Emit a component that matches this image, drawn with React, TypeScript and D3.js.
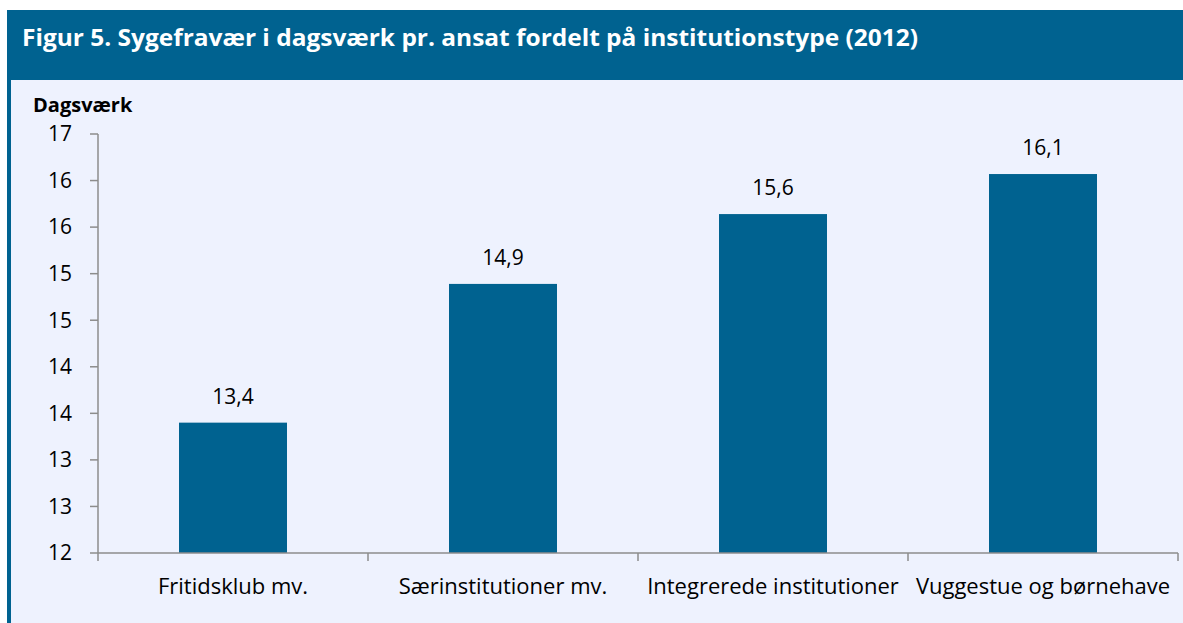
import { useRef, useEffect } from "react";
import * as d3 from "d3";

const categories = [
  "Fritidsklub mv.",
  "Særinstitutioner mv.",
  "Integrerede institutioner",
  "Vuggestue og børnehave",
];
const values = [13.4, 14.89, 15.64, 16.07];
const valueLabels = ["13,4", "14,9", "15,6", "16,1"];
const yTicks = [12, 12.5, 13, 13.5, 14, 14.5, 15, 15.5, 16, 16.5];
const yTickLabels = ["12", "13", "13", "14", "14", "15", "15", "16", "16", "17"];

const title = "Figur 5. Sygefravær i dagsværk pr. ansat fordelt på institutionstype (2012)";
const yTitle = "Dagsværk";

const BLUE = "#006290";
const BG = "#EEF2FE";
const AXIS = "#8C8C8C";
const FONT = "'Open Sans', 'Noto Sans', sans-serif";

export default function App() {
  const ref = useRef<SVGSVGElement>(null);

  useEffect(() => {
    const W = 1183;
    const H = 623;
    const svg = d3.select(ref.current);
    svg.selectAll("*").remove();

    // frame
    svg.append("rect").attr("width", W).attr("height", H).attr("fill", "#fff");
    svg.append("rect").attr("x", 7).attr("y", 10).attr("width", W - 7).attr("height", H - 10).attr("fill", BLUE);
    svg.append("rect").attr("x", 11).attr("y", 80).attr("width", W - 11).attr("height", H - 80).attr("fill", BG);

    svg.append("text")
      .attr("x", 22)
      .attr("y", 46)
      .attr("fill", "#fff")
      .attr("font-family", FONT)
      .attr("font-weight", "bold")
      .attr("font-size", "24px")
      .attr("textLength", 896)
      .attr("lengthAdjust", "spacingAndGlyphs")
      .text(title);

    svg.append("text")
      .attr("x", 33)
      .attr("y", 112)
      .attr("fill", "#000")
      .attr("font-family", FONT)
      .attr("font-weight", "bold")
      .attr("font-size", "20px")
      .text(yTitle);

    const left = 98;
    const right = 1178;
    const top = 134;
    const bottom = 553;

    const x = d3.scaleBand().domain(categories).range([left, right]).paddingInner(0.6).paddingOuter(0.3);
    const y = d3.scaleLinear().domain([12, 16.5]).range([bottom, top]);

    // bars
    svg.append("g")
      .selectAll("rect")
      .data(values)
      .join("rect")
      .attr("x", (_, i) => x(categories[i])!)
      .attr("width", x.bandwidth())
      .attr("y", (d) => y(d))
      .attr("height", (d) => bottom - y(d))
      .attr("fill", BLUE);

    svg.append("g")
      .selectAll("text")
      .data(values)
      .join("text")
      .attr("x", (_, i) => x(categories[i])! + x.bandwidth() / 2)
      .attr("y", (d) => y(d) - 19)
      .attr("text-anchor", "middle")
      .attr("font-family", FONT)
      .attr("font-size", "21px")
      .attr("fill", "#000")
      .text((_, i) => valueLabels[i]);

    // y axis
    const yAxis = svg.append("g").attr("transform", `translate(${left},0)`);
    yAxis.append("line").attr("y1", top).attr("y2", bottom).attr("stroke", AXIS).attr("stroke-width", 1.5);
    yTicks.forEach((t, i) => {
      yAxis.append("line").attr("x1", -8).attr("x2", 0).attr("y1", y(t)).attr("y2", y(t)).attr("stroke", AXIS).attr("stroke-width", 1.5);
      yAxis.append("text")
        .attr("x", -26)
        .attr("y", y(t))
        .attr("dy", "0.35em")
        .attr("text-anchor", "end")
        .attr("font-family", FONT)
        .attr("font-size", "21px")
        .attr("fill", "#000")
        .text(yTickLabels[i]);
    });

    // x axis
    const step = (right - left) / categories.length;
    const xAxis = svg.append("g").attr("transform", `translate(0,${bottom})`);
    xAxis.append("line").attr("x1", left).attr("x2", right).attr("stroke", AXIS).attr("stroke-width", 1.5);
    d3.range(categories.length + 1).forEach((i) => {
      xAxis.append("line").attr("x1", left + i * step).attr("x2", left + i * step).attr("y1", 0).attr("y2", 8).attr("stroke", AXIS).attr("stroke-width", 1.5);
    });
    categories.forEach((c) => {
      xAxis.append("text")
        .attr("x", x(c)! + x.bandwidth() / 2)
        .attr("y", 41)
        .attr("text-anchor", "middle")
        .attr("font-family", FONT)
        .attr("font-size", "22px")
        .attr("fill", "#000")
        .text(c);
    });
  }, []);

  return (
    <svg
      ref={ref}
      width={1183}
      height={623}
      style={{ display: "block", position: "absolute", left: 0, top: 0 }}
    />
  );
}
